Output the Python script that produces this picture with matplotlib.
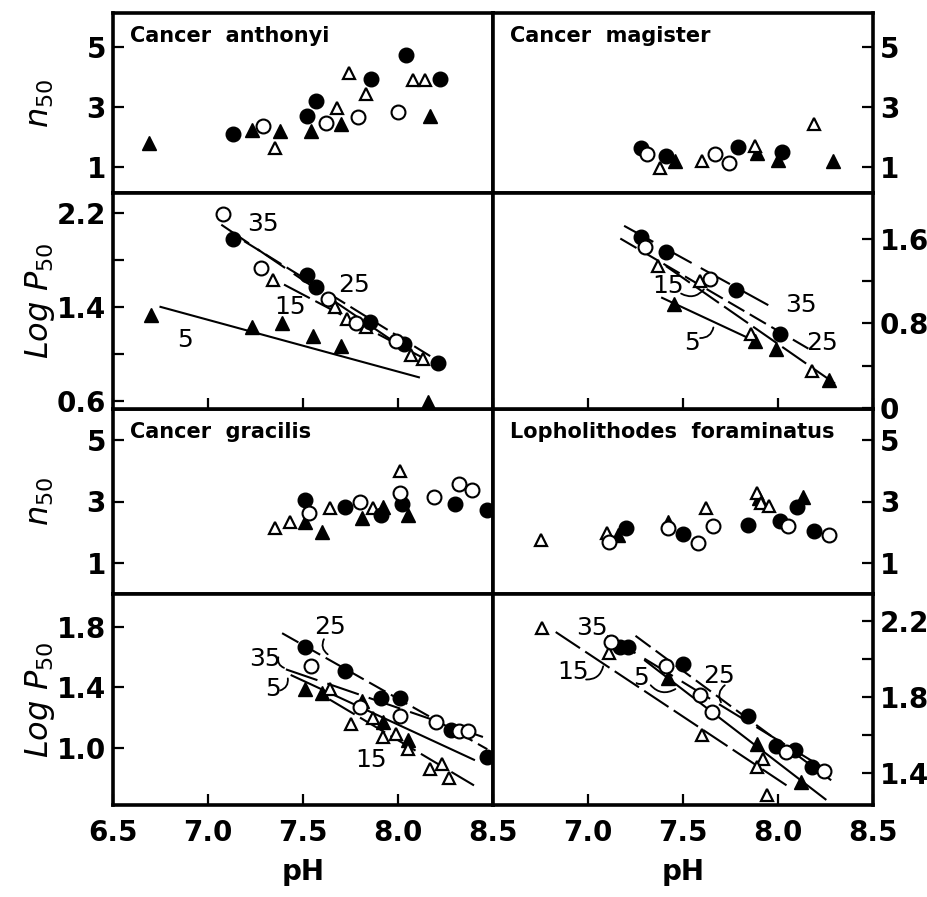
"""
Hemocyanin oxygen binding vs pH for four crab species.
Top of each pair: cooperativity (n50); bottom: Log P50, temperatures 5-35 C.
"""

import matplotlib

matplotlib.use("Agg")
import matplotlib.pyplot as plt

plt.rcParams["font.family"] = ["DejaVu Sans"]
plt.rcParams["mathtext.fontset"] = "dejavusans"

# ---------------------------------------------------------------- data
# temperatures: 5 = filled triangle, 15 = open triangle,
#               25 = filled circle,  35 = open circle

# Cancer anthonyi, n50
anth_n_ph_5 = [6.69, 7.23, 7.38, 7.54, 7.70, 8.17]
anth_n_5 = [1.81, 2.23, 2.20, 2.18, 2.42, 2.68]
anth_n_ph_15 = [7.35, 7.68, 7.74, 7.83, 8.08, 8.14]
anth_n_15 = [1.62, 2.96, 4.12, 3.43, 3.88, 3.90]
anth_n_ph_25 = [7.13, 7.52, 7.57, 7.86, 8.04, 8.22]
anth_n_25 = [2.09, 2.70, 3.18, 3.92, 4.73, 3.92]
anth_n_ph_35 = [7.29, 7.62, 7.79, 8.00]
anth_n_35 = [2.37, 2.46, 2.66, 2.84]

# Cancer magister, n50
mag_n_ph_5 = [7.46, 7.89, 8.00, 8.29]
mag_n_5 = [1.18, 1.46, 1.23, 1.18]
mag_n_ph_15 = [7.38, 7.60, 7.88, 8.19]
mag_n_15 = [0.96, 1.21, 1.71, 2.43]
mag_n_ph_25 = [7.28, 7.41, 7.79, 8.02]
mag_n_25 = [1.64, 1.37, 1.66, 1.48]
mag_n_ph_35 = [7.31, 7.67, 7.74]
mag_n_35 = [1.43, 1.43, 1.12]

# Cancer anthonyi, Log P50
anth_p_ph_5 = [6.70, 7.23, 7.39, 7.55, 7.70, 8.16]
anth_p_5 = [1.33, 1.23, 1.26, 1.15, 1.07, 0.59]
anth_p_ph_15 = [7.34, 7.67, 7.73, 7.83, 8.07, 8.13]
anth_p_15 = [1.63, 1.40, 1.30, 1.23, 0.99, 0.96]
anth_p_ph_25 = [7.13, 7.52, 7.57, 7.85, 8.03, 8.21]
anth_p_25 = [1.98, 1.67, 1.57, 1.27, 1.08, 0.92]
anth_p_ph_35 = [7.08, 7.28, 7.63, 7.78, 7.99]
anth_p_35 = [2.19, 1.73, 1.47, 1.26, 1.11]
anth_fit_ph = {"35": [7.07, 8.00], "25": [7.19, 8.22], "15": [7.40, 8.15], "5": [6.75, 8.11]}
anth_fit_p = {"35": [2.10, 1.08], "25": [1.96, 0.93], "15": [1.59, 0.95], "5": [1.40, 0.80]}
anth_lab_ph = {"35": 7.29, "25": 7.77, "15": 7.43, "5": 6.88}
anth_lab_p = {"35": 2.11, "25": 1.59, "15": 1.40, "5": 1.12}
anth_leaders = []

# Cancer magister, Log P50
mag_p_ph_5 = [7.45, 7.88, 7.99, 8.27]
mag_p_5 = [0.98, 0.63, 0.56, 0.26]
mag_p_ph_15 = [7.37, 7.59, 7.86, 8.18]
mag_p_15 = [1.34, 1.20, 0.70, 0.35]
mag_p_ph_25 = [7.28, 7.41, 7.78, 8.01]
mag_p_25 = [1.61, 1.47, 1.11, 0.70]
mag_p_ph_35 = [7.30, 7.64]
mag_p_35 = [1.52, 1.22]
mag_fit_ph = {"35": [7.19, 7.99], "25": [7.17, 8.16], "15": [7.41, 8.30], "5": [7.39, 7.88]}
mag_fit_p = {"35": [1.72, 0.93], "25": [1.60, 0.56], "15": [1.34, 0.23], "5": [1.04, 0.63]}
mag_lab_ph = {"35": 8.12, "25": 8.23, "15": 7.42, "5": 7.55}
mag_lab_p = {"35": 0.97, "25": 0.61, "15": 1.15, "5": 0.61}
# leader curves: (start pH, start value, end pH, end value)
mag_leaders = [(7.49, 1.08, 7.61, 1.12), (7.59, 0.66, 7.66, 0.76)]

# Cancer gracilis, n50
grac_n_ph_5 = [7.51, 7.60, 7.81, 7.92, 8.05]
grac_n_5 = [2.34, 2.02, 2.45, 2.83, 2.56]
grac_n_ph_15 = [7.35, 7.43, 7.64, 7.87, 8.01]
grac_n_15 = [2.13, 2.34, 2.78, 2.78, 4.00]
grac_n_ph_25 = [7.51, 7.72, 7.91, 8.02, 8.30, 8.47]
grac_n_25 = [3.05, 2.83, 2.56, 2.92, 2.92, 2.72]
grac_n_ph_35 = [7.53, 7.80, 8.01, 8.19, 8.32, 8.39]
grac_n_35 = [2.62, 2.99, 3.27, 3.16, 3.57, 3.37]

# Lopholithodes foraminatus, n50
loph_n_ph_5 = [7.16, 7.42, 7.90, 8.13]
loph_n_5 = [1.91, 2.34, 3.10, 3.16]
loph_n_ph_15 = [6.75, 7.10, 7.62, 7.89, 7.91, 7.95]
loph_n_15 = [1.75, 1.97, 2.78, 3.27, 2.94, 2.85]
loph_n_ph_25 = [7.20, 7.50, 7.84, 8.01, 8.10, 8.19]
loph_n_25 = [2.13, 1.94, 2.24, 2.38, 2.81, 2.05]
loph_n_ph_35 = [7.11, 7.42, 7.58, 7.66, 8.05, 8.27]
loph_n_35 = [1.69, 2.13, 1.64, 2.21, 2.20, 1.91]

# Cancer gracilis, Log P50
grac_p_ph_5 = [7.51, 7.60, 7.81, 7.92, 8.05]
grac_p_5 = [1.39, 1.36, 1.31, 1.17, 1.05]
grac_p_ph_15 = [7.64, 7.75, 7.87, 7.92, 7.99, 8.05, 8.17, 8.23, 8.27]
grac_p_15 = [1.39, 1.16, 1.20, 1.07, 1.09, 0.99, 0.86, 0.89, 0.80]
grac_p_ph_25 = [7.51, 7.72, 7.91, 8.01, 8.28, 8.47]
grac_p_25 = [1.67, 1.51, 1.33, 1.33, 1.12, 0.94]
grac_p_ph_35 = [7.54, 7.80, 8.01, 8.20, 8.32, 8.37]
grac_p_35 = [1.54, 1.27, 1.21, 1.17, 1.11, 1.11]
grac_fit_ph = {"25": [7.39, 8.47], "35": [7.41, 8.45], "5": [7.44, 8.40], "15": [7.64, 8.40]}
grac_fit_p = {"25": [1.76, 0.99], "35": [1.52, 1.07], "5": [1.48, 0.92], "15": [1.32, 0.75]}
grac_lab_ph = {"25": 7.64, "35": 7.30, "5": 7.34, "15": 7.86}
grac_lab_p = {"25": 1.80, "35": 1.59, "5": 1.39, "15": 0.92}
grac_leaders = [(7.61, 1.72, 7.63, 1.62), (7.37, 1.60, 7.40, 1.53), (7.38, 1.38, 7.42, 1.46)]

# Lopholithodes foraminatus, Log P50
loph_p_ph_5 = [7.42, 7.89, 8.12]
loph_p_5 = [1.90, 1.55, 1.35]
loph_p_ph_15 = [6.76, 7.11, 7.60, 7.92, 7.89, 7.94]
loph_p_15 = [2.16, 2.03, 1.60, 1.47, 1.43, 1.28]
loph_p_ph_25 = [7.17, 7.21, 7.50, 7.84, 7.99, 8.09, 8.18]
loph_p_25 = [2.06, 2.06, 1.97, 1.70, 1.54, 1.52, 1.43]
loph_p_ph_35 = [7.12, 7.41, 7.59, 7.65, 8.04, 8.24]
loph_p_35 = [2.09, 1.96, 1.81, 1.72, 1.51, 1.41]
loph_fit_ph = {"35": [7.10, 8.28], "25": [7.25, 8.28], "15": [6.83, 8.05], "5": [7.30, 8.25]}
loph_fit_p = {"35": [2.12, 1.40], "25": [2.12, 1.36], "15": [2.14, 1.33], "5": [1.99, 1.26]}
loph_lab_ph = {"35": 7.02, "25": 7.69, "15": 6.92, "5": 7.28}
loph_lab_p = {"35": 2.16, "25": 1.91, "15": 1.93, "5": 1.90}
loph_leaders = [(6.99, 1.89, 7.08, 1.96), (7.33, 1.86, 7.46, 1.84), (7.72, 1.86, 7.70, 1.77)]

SPECIES = ["Cancer  anthonyi", "Cancer  magister", "Cancer  gracilis", "Lopholithodes  foraminatus"]

# ---------------------------------------------------------------- styles
MARKERS = {
    "5": dict(marker="^", mfc="black", mec="black", ms=9.5, mew=1.0),
    "15": dict(marker="^", mfc="white", mec="black", ms=8.5, mew=1.6),
    "25": dict(marker="o", mfc="black", mec="black", ms=10.5, mew=1.0),
    "35": dict(marker="o", mfc="white", mec="black", ms=10, mew=1.5),
}
DASHES = {"5": None, "15": (14, 3), "25": (9, 3), "35": (16, 5)}

FIG_W, FIG_H = 928, 897
X_LEFT, X_MID, X_RIGHT = 113, 493, 873
ROW_EDGES = [13, 193, 409, 594, 805]


def _add_axes(fig, col, row):
    x0 = X_LEFT if col == 0 else X_MID
    y_top, y_bot = ROW_EDGES[row], ROW_EDGES[row + 1]
    rect = [x0 / FIG_W, 1 - y_bot / FIG_H, (X_MID - X_LEFT) / FIG_W, (y_bot - y_top) / FIG_H]
    ax = fig.add_axes(rect)
    ax.set_xlim(6.5, 8.5)
    for sp in ax.spines.values():
        sp.set_linewidth(2.6)
    ax.tick_params(which="both", direction="in", width=1.6, labelsize=20, length=8)
    side = "left" if col == 0 else "right"
    ax.tick_params(axis="y", which="both", left=(side == "left"), right=(side == "right"),
                   labelleft=(side == "left"), labelright=(side == "right"), pad=5)
    return ax


def _scatter(ax, series):
    for temp, xs, ys in series:
        ax.plot(xs, ys, linestyle="none", zorder=3, **MARKERS[temp])


def _fits(ax, fit_ph, fit_p, lab_ph, lab_p, leaders):
    for temp in fit_ph:
        (line,) = ax.plot(fit_ph[temp], fit_p[temp], color="black", lw=1.5, zorder=2)
        if DASHES[temp]:
            line.set_dashes(DASHES[temp])
        ax.text(lab_ph[temp], lab_p[temp], temp, fontsize=18, ha="center", va="center")
    for x0, y0, x1, y1 in leaders:
        ax.annotate("", xy=(x1, y1), xytext=(x0, y0),
                    arrowprops=dict(arrowstyle="-", lw=1.3, color="black",
                                    shrinkA=0, shrinkB=0,
                                    connectionstyle="arc3,rad=0.4"))


def _format_x(ax, show_labels, col):
    ax.set_xticks([6.5, 7.0, 7.5, 8.0, 8.5])
    ax.tick_params(axis="x", top=False, bottom=show_labels is not None, pad=10)
    if show_labels:
        labels = ["6.5", "7.0", "7.5", "8.0", "8.5"]
        if col == 1:
            labels[0] = ""
        ax.set_xticklabels(labels, fontsize=20, fontweight="bold")
    else:
        ax.set_xticklabels([])


def main():
    fig = plt.figure(figsize=(FIG_W / 100, FIG_H / 100), dpi=100)

    n_panels = [
        (0, 0, [("5", anth_n_ph_5, anth_n_5), ("15", anth_n_ph_15, anth_n_15),
                ("25", anth_n_ph_25, anth_n_25), ("35", anth_n_ph_35, anth_n_35)], SPECIES[0]),
        (1, 0, [("5", mag_n_ph_5, mag_n_5), ("15", mag_n_ph_15, mag_n_15),
                ("25", mag_n_ph_25, mag_n_25), ("35", mag_n_ph_35, mag_n_35)], SPECIES[1]),
        (0, 2, [("5", grac_n_ph_5, grac_n_5), ("15", grac_n_ph_15, grac_n_15),
                ("25", grac_n_ph_25, grac_n_25), ("35", grac_n_ph_35, grac_n_35)], SPECIES[2]),
        (1, 2, [("5", loph_n_ph_5, loph_n_5), ("15", loph_n_ph_15, loph_n_15),
                ("25", loph_n_ph_25, loph_n_25), ("35", loph_n_ph_35, loph_n_35)], SPECIES[3]),
    ]
    for col, row, series, title in n_panels:
        ax = _add_axes(fig, col, row)
        ax.set_ylim((0.13, 6.13) if row == 0 else (0.0, 6.0))
        ax.set_yticks([1, 3, 5])
        ax.set_yticklabels(["1", "3", "5"], fontweight="bold")
        _format_x(ax, None, col)
        _scatter(ax, series)
        ax.text(0.045, 0.93, title, transform=ax.transAxes, fontsize=15,
                fontweight="bold", va="top", ha="left")

    p_panels = [
        (0, 1, [("5", anth_p_ph_5, anth_p_5), ("15", anth_p_ph_15, anth_p_15),
                ("25", anth_p_ph_25, anth_p_25), ("35", anth_p_ph_35, anth_p_35)],
         (anth_fit_ph, anth_fit_p, anth_lab_ph, anth_lab_p, anth_leaders),
         (0.53, 2.37), [0.6, 1.4, 2.2], [1.0, 1.8], False),
        (1, 1, [("5", mag_p_ph_5, mag_p_5), ("15", mag_p_ph_15, mag_p_15),
                ("25", mag_p_ph_25, mag_p_25), ("35", mag_p_ph_35, mag_p_35)],
         (mag_fit_ph, mag_fit_p, mag_lab_ph, mag_lab_p, mag_leaders),
         (-0.01, 2.03), [0.0, 0.8, 1.6], [0.4, 1.2], False),
        (0, 3, [("5", grac_p_ph_5, grac_p_5), ("15", grac_p_ph_15, grac_p_15),
                ("25", grac_p_ph_25, grac_p_25), ("35", grac_p_ph_35, grac_p_35)],
         (grac_fit_ph, grac_fit_p, grac_lab_ph, grac_lab_p, grac_leaders),
         (0.62, 2.02), [1.0, 1.4, 1.8], [], True),
        (1, 3, [("5", loph_p_ph_5, loph_p_5), ("15", loph_p_ph_15, loph_p_15),
                ("25", loph_p_ph_25, loph_p_25), ("35", loph_p_ph_35, loph_p_35)],
         (loph_fit_ph, loph_fit_p, loph_lab_ph, loph_lab_p, loph_leaders),
         (1.23, 2.34), [1.4, 1.8, 2.2], [1.6, 2.0], True),
    ]
    for col, row, series, fits, ylim, major, minor, bottom in p_panels:
        ax = _add_axes(fig, col, row)
        ax.set_ylim(*ylim)
        ax.set_yticks(major)
        ax.set_yticklabels(["0" if v == 0 else f"{v:.1f}" for v in major], fontweight="bold")
        ax.set_yticks(minor, minor=True)
        _format_x(ax, bottom, col)
        _fits(ax, *fits)
        _scatter(ax, series)
        if bottom:
            ax.set_xlabel("pH", fontsize=20, fontweight="bold", labelpad=8)

    # y axis titles
    for row, text in enumerate([r"$\mathit{n}_{50}$", r"$\mathit{Log\ P}_{50}$",
                                r"$\mathit{n}_{50}$", r"$\mathit{Log\ P}_{50}$"]):
        yc = 1 - (ROW_EDGES[row] + ROW_EDGES[row + 1]) / 2 / FIG_H
        fig.text(40 / FIG_W, yc, text, rotation=90, fontsize=23, ha="center", va="center")

    fig.savefig("out.png", dpi=100)
    plt.close(fig)


if __name__ == "__main__":
    main()
